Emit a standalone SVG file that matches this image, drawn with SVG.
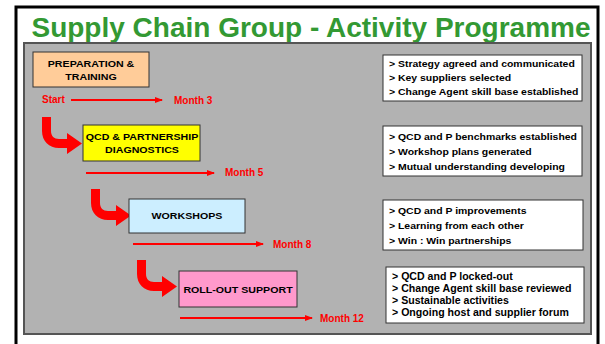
<svg xmlns="http://www.w3.org/2000/svg" width="605" height="344" viewBox="0 0 605 344">
<style>
.title{font-family:"Liberation Sans",Arial,sans-serif;font-weight:bold;font-size:28px;fill:#339933}
.node{stroke:#333;stroke-width:1}
.nt{font-family:"Liberation Sans",Arial,sans-serif;font-weight:bold;font-size:9.5px;fill:#000;text-anchor:middle}
.lbl{font-family:"Liberation Sans",Arial,sans-serif;font-weight:bold;font-size:10px;fill:#ff0000}
.info{fill:#fff;stroke:#333;stroke-width:1}
.it{font-family:"Liberation Sans",Arial,sans-serif;font-weight:bold;font-size:9.5px;fill:#000}
.it4{font-family:"Liberation Sans",Arial,sans-serif;font-weight:bold;font-size:10px;fill:#000}
.line{stroke:#ff0000;stroke-width:2;fill:none}
.curve{fill:#ff0000}
</style>
<defs>
<marker id="ah" markerWidth="8" markerHeight="6" refX="7" refY="3" orient="auto" markerUnits="userSpaceOnUse">
<path d="M0,0 L8,3 L0,6 Z" fill="#ff0000"/>
</marker>
<path id="bend" d="M0,0 H9 V14 C9,19 12,22 17,22 H25 V16 L40,26.5 L25,37 V31 H17 C7,31 0,24 0,14 Z"/>
</defs>
<rect width="605" height="344" fill="#fff"/>
<rect x="16" y="7" width="582" height="345" fill="#fff" stroke="#000" stroke-width="3"/>
<text class="title" x="311" y="37" text-anchor="middle">Supply Chain Group - Activity Programme</text>
<rect x="24" y="43" width="567" height="291" fill="#b2b2b2" stroke="#555" stroke-width="2"/>

<g id="connectors">
<line class="line" x1="71" y1="100" x2="162" y2="100" marker-end="url(#ah)"/>
<line class="line" x1="86" y1="173" x2="214" y2="173" marker-end="url(#ah)"/>
<line class="line" x1="133" y1="244" x2="263" y2="244" marker-end="url(#ah)"/>
<line class="line" x1="180" y1="318" x2="312" y2="318" marker-end="url(#ah)"/>
<use href="#bend" class="curve" x="42" y="117"/>
<use href="#bend" class="curve" x="91" y="189"/>
<use href="#bend" class="curve" x="137" y="260"/>
<text class="lbl" x="42" y="103">Start</text>
<text class="lbl" x="174" y="104">Month 3</text>
<text class="lbl" x="225" y="176">Month 5</text>
<text class="lbl" x="273" y="248">Month 8</text>
<text class="lbl" x="320" y="322">Month 12</text>
</g>

<g id="prep">
<rect class="node" x="33" y="52" width="116" height="35" fill="#ffcc99"/>
<text class="nt" transform="translate(91,67) scale(1.12,1)">PREPARATION &amp;</text>
<text class="nt" transform="translate(91,80) scale(1.12,1)">TRAINING</text>
</g>
<g id="qcd">
<rect class="node" x="83" y="125" width="117" height="36" fill="#ffff00"/>
<text class="nt" transform="translate(142,140) scale(1.12,1)">QCD &amp; PARTNERSHIP</text>
<text class="nt" transform="translate(142,153) scale(1.12,1)">DIAGNOSTICS</text>
</g>
<g id="workshops">
<rect class="node" x="129" y="199" width="116" height="34" fill="#cceeff"/>
<text class="nt" transform="translate(187,219) scale(1.12,1)">WORKSHOPS</text>
</g>
<g id="rollout">
<rect class="node" x="179" y="271" width="118" height="36" fill="#ff99cc"/>
<text class="nt" transform="translate(238,293) scale(1.12,1)">ROLL-OUT SUPPORT</text>
</g>

<g id="info1">
<rect class="info" x="383" y="55" width="199" height="46"/>
<g transform="translate(389,0) scale(1.1,1)">
<text class="it" x="0" y="67">&gt; Strategy agreed and communicated</text>
<text class="it" x="0" y="81">&gt; Key suppliers selected</text>
<text class="it" x="0" y="95">&gt; Change Agent skill base established</text>
</g>
</g>
<g id="info2">
<rect class="info" x="383" y="126" width="199" height="50"/>
<g transform="translate(389,0) scale(1.1,1)">
<text class="it" x="0" y="140">&gt; QCD and P benchmarks established</text>
<text class="it" x="0" y="155">&gt; Workshop plans generated</text>
<text class="it" x="0" y="170">&gt; Mutual understanding developing</text>
</g>
</g>
<g id="info3">
<rect class="info" x="383" y="200" width="200" height="50"/>
<g transform="translate(389,0) scale(1.1,1)">
<text class="it" x="0" y="214">&gt; QCD and P improvements</text>
<text class="it" x="0" y="229">&gt; Learning from each other</text>
<text class="it" x="0" y="244">&gt; Win : Win partnerships</text>
</g>
</g>
<g id="info4">
<rect class="info" x="386" y="267" width="198" height="56"/>
<g transform="translate(392,0) scale(1.06,1)">
<text class="it4" x="0" y="280">&gt; QCD and P locked-out</text>
<text class="it4" x="0" y="292">&gt; Change Agent skill base reviewed</text>
<text class="it4" x="0" y="304">&gt; Sustainable activities</text>
<text class="it4" x="0" y="316">&gt; Ongoing host and supplier forum</text>
</g>
</g>
</svg>
